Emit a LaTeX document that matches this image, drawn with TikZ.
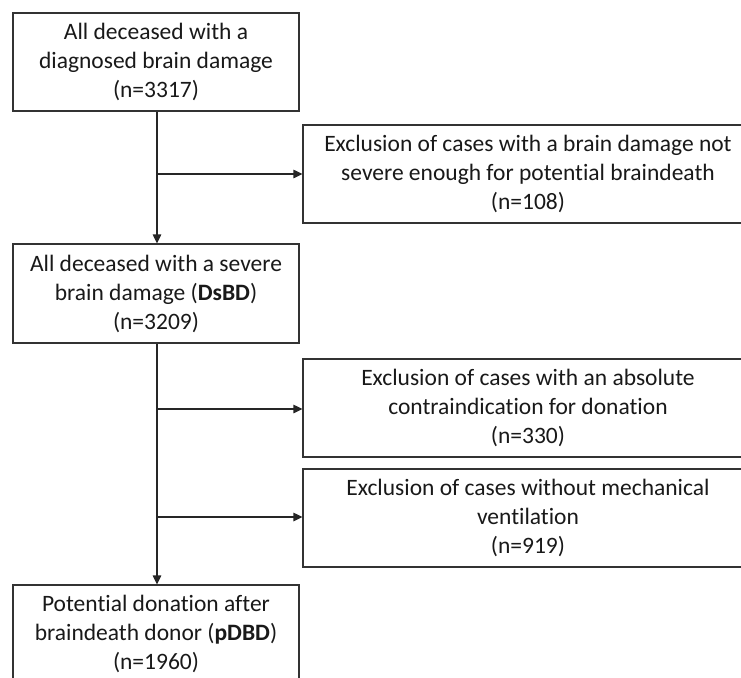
\documentclass[tikz,border=0pt]{standalone}
\usepackage{fontspec}
\setmainfont{Carlito}[Ligatures=NoCommon]
\usetikzlibrary{arrows.meta}
\begin{document}
\begin{tikzpicture}[x=1pt,y=-1pt,
  box/.style={draw=black!80,line width=1.2pt,align=center,inner sep=0pt,
    font=\fontsize{23.5}{29}\selectfont,text=black!90},
  conn/.style={draw=black!85,line width=1.2pt},
  arr/.style={conn,-{Triangle[length=9pt,width=8.5pt]}}]
\useasboundingbox (0,0) rectangle (741,677);
\clip (0,0) rectangle (741,677);
\fill[white] (0,0) rectangle (741,677);
% main column
\node[box,minimum width=286pt,minimum height=98pt] (b1) at (156,62)
  {All deceased with a\\diagnosed brain damage\\(n=3317)};
\node[box,minimum width=286pt,minimum height=99pt] (b3) at (156,293.5)
  {All deceased with a severe\\brain damage (\textbf{DsBD})\\(n=3209)};
\node[box,minimum width=286pt,minimum height=98pt] (b6) at (156,634)
  {Potential donation after\\braindeath donor (\textbf{pDBD})\\(n=1960)};
% exclusions
\node[box,minimum width=450pt,minimum height=98pt] (b2) at (528,174)
  {Exclusion of cases with a brain damage not\\severe enough for potential braindeath\\(n=108)};
\node[box,minimum width=450pt,minimum height=98pt] (b4) at (528,408)
  {Exclusion of cases with an absolute\\contraindication for donation\\(n=330)};
\node[box,minimum width=450pt,minimum height=98pt] (b5) at (528,518)
  {Exclusion of cases without mechanical\\ventilation\\(n=919)};
% connectors
\coordinate (j1) at (157,174);
\coordinate (j2) at (157,409);
\coordinate (j3) at (157,517);
\draw[arr] (b1.south -| j1) -- (b3.north -| j1);
\draw[arr] (j1) -- (j1 -| b2.west);
\draw[arr] (b3.south -| j2) -- (b6.north -| j2);
\draw[arr] (j2) -- (j2 -| b4.west);
\draw[arr] (j3) -- (j3 -| b5.west);
\end{tikzpicture}
\end{document}
